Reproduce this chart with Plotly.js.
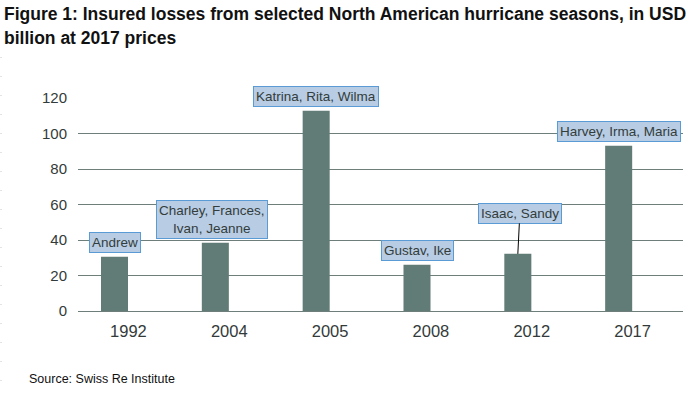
<!DOCTYPE html>
<html>
<head>
<meta charset="utf-8">
<script src="https://cdn.plot.ly/plotly-3.0.1.min.js"></script>
<style>html,body{margin:0;padding:0;background:#fff;}#chart{width:700px;height:394px;}</style>
</head>
<body>
<div id="chart"></div>
<script>
// Data
const years = ["1992", "2004", "2005", "2008", "2012", "2017"];
const losses = [30.5, 38.4, 112.8, 26.0, 32.2, 93.1];
const hurricaneNames = ["Andrew", "Charley, Frances,<br>Ivan, Jeanne", "Katrina, Rita, Wilma", "Gustav, Ike", "Isaac, Sandy", "Harvey, Irma, Maria"];
const yTicks = [0, 20, 40, 60, 80, 100, 120];
const titleLines = ["Figure 1: Insured losses from selected North American hurricane seasons, in USD", "billion at 2017 prices"];

// Label placement (box centre, in value units) and small horizontal nudges
const labelY = [38.6, 51.7, 121, 34.2, 55.1, 101.3];
const labelDx = [0, -0.03, 0, 0, 0.015, 0];

const yMax = 120;
const W = 700, H = 394;
const M = {l: 78, r: 17, t: 98, b: 83};
const plotW = W - M.l - M.r, plotH = H - M.t - M.b;
const px2paperX = px => (px - M.l) / plotW;
const px2paperY = py => (H - M.b - py) / plotH;

const barOffset = -0.272, barWidth = 0.268;
const barCentre = barOffset + barWidth / 2;

const labelFont = {family: "Liberation Sans, Arial, sans-serif", size: 13.5, color: "#333d3b"};

const annotations = years.map((y, i) => {
  const base = {
    xref: "x",
    text: hurricaneNames[i],
    font: labelFont,
    bgcolor: "#b8cce4",
    bordercolor: "#5b9bd5",
    borderwidth: 1,
    borderpad: 2,
    align: "center"
  };
  if (i === 4) {
    return Object.assign(base, {
      yref: "y",
      x: i + barCentre, y: losses[i],
      showarrow: true, arrowhead: 0, arrowwidth: 1, arrowcolor: "#000",
      standoff: 0,
      axref: "pixel", ayref: "pixel",
      ax: 2, ay: -40.5
    });
  }
  return Object.assign(base, {
    yref: "paper",
    x: i + barCentre + labelDx[i], y: labelY[i] / yMax,
    xanchor: "center", yanchor: "middle",
    showarrow: false
  });
});

const titleFont = {family: "Liberation Sans, Arial, sans-serif", size: 17.5, color: "#111"};
const titleCentres = [13.8, 38.2];
titleLines.forEach((t, k) => {
  annotations.push({
    xref: "paper", yref: "paper",
    x: px2paperX(2), y: px2paperY(titleCentres[k]),
    xanchor: "left", yanchor: "middle",
    text: "<b>" + t + "</b>",
    showarrow: false,
    font: titleFont
  });
});

annotations.push({
  xref: "paper", yref: "paper",
  x: px2paperX(27), y: px2paperY(379), xanchor: "left", yanchor: "middle",
  text: "Source: Swiss Re Institute",
  showarrow: false,
  font: {family: "Liberation Sans, Arial, sans-serif", size: 12.5, color: "#111"}
});

const trace = {
  type: "bar",
  x: years,
  y: losses,
  offset: barOffset,
  width: barWidth,
  marker: {color: "#617c76", line: {width: 0}},
  hoverinfo: "x+y"
};

const layout = {
  width: W, height: H,
  margin: M,
  paper_bgcolor: "#fff", plot_bgcolor: "#fff",
  showlegend: false,
  xaxis: {
    type: "category",
    showgrid: false, zeroline: false, showline: false,
    ticks: "", ticklabelstandoff: 8,
    tickfont: {family: "Liberation Sans, Arial, sans-serif", size: 16.5, color: "#333b3a"},
    fixedrange: true
  },
  yaxis: {
    range: [0, yMax],
    tickvals: yTicks,
    ticktext: yTicks.map(String),
    showgrid: true, gridcolor: "#6e7f7b", gridwidth: 1,
    zeroline: true, zerolinecolor: "#6e7f7b", zerolinewidth: 1,
    showline: false, ticks: "", ticklabelstandoff: 10,
    tickfont: {family: "Liberation Sans, Arial, sans-serif", size: 15, color: "#333b3a"},
    fixedrange: true
  },
  annotations: annotations,
  shapes: [{
    type: "line", xref: "paper", yref: "paper",
    x0: px2paperX(1), x1: px2paperX(1),
    y0: px2paperY(57), y1: px2paperY(394),
    line: {color: "#c8c8c8", width: 1, dash: "1px,18px"}
  }]
};

Plotly.newPlot("chart", [trace], layout, {displayModeBar: false, staticPlot: true});
</script>
</body>
</html>
